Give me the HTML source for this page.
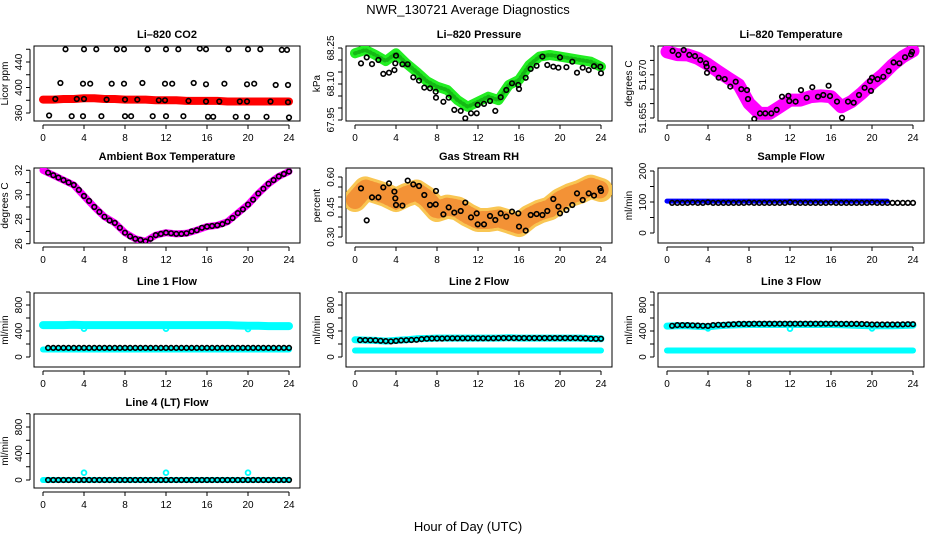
<!DOCTYPE html>
<html><head><meta charset="utf-8"><style>
html,body{margin:0;padding:0;background:#fff;}
svg{display:block;font-family:"Liberation Sans",Arial,sans-serif;}
</style></head><body>
<svg id="chart" width="936" height="540" viewBox="0 0 936 540" xmlns="http://www.w3.org/2000/svg">
<rect width="936" height="540" fill="#fff"/>
<text x="468" y="14" text-anchor="middle" font-size="13">NWR_130721  Average Diagnostics</text>
<text x="468" y="531" text-anchor="middle" font-size="13">Hour of Day (UTC)</text>
</svg>
<script>
// ---------- data ----------
const HOURS = [0,1,2,3,4,5,6,7,8,9,10,11,12,13,14,15,16,17,18,19,20,21,22,23,24];
const HALF = [0.5,1,1.5,2,2.5,3,3.5,4,4.5,5,5.5,6,6.5,7,7.5,8,8.5,9,9.5,10,10.5,11,11.5,12,12.5,13,13.5,14,14.5,15,15.5,16,16.5,17,17.5,18,18.5,19,19.5,20,20.5,21,21.5,22,22.5,23,23.5,24];
const X_TICKS = [0,4,8,12,16,20,24];

// CO2
const co2Band = [381,381,382,382,383,383,382,382,381,381,381,380,380,380,379,379,379,379,378,378,378,378,378,378,378];
const co2TopH = [2.2,4.0,5.2,7.2,7.9,10.2,12.0,13.2,15.3,15.9,18.1,20.0,21.2,23.3,23.8];
const co2TopV = [460,460,460,460,460,460,460,460,461,460,460,460,460,459,459];
const co2MidH = [1.7,3.9,4.6,6.7,7.9,9.7,11.9,12.6,14.7,15.9,17.7,19.9,20.6,22.7,23.9];
const co2MidV = [407,406,406,406,406,407,406,406,407,405,406,405,406,404,404];
const co2LowH = [1.2,3.3,4.0,6.2,8.0,9.2,11.3,11.9,14.2,15.9,17.2,19.2,19.9,22.2,23.9];
const co2LowV = [382,382,382,381,381,381,380,380,379,378,378,378,378,378,377];
const co2BotH = [0.6,2.8,3.9,5.7,8.0,8.6,10.7,12.0,13.7,16.1,16.6,18.8,19.9,21.8,24.0];
const co2BotV = [356,355,355,355,355,355,355,355,355,354,354,354,354,354,353];

// Pressure
const presBand = [68.228,68.242,68.221,68.196,68.228,68.186,68.151,68.112,68.089,68.075,68.033,68.005,68.026,68.047,68.033,68.096,68.117,68.179,68.214,68.221,68.214,68.207,68.200,68.193,68.172];
const presPtH = [0.59,1.14,1.66,2.28,2.76,3.32,3.84,3.93,4.0,4.62,5.14,5.69,6.24,6.76,7.32,7.87,7.9,8.62,9.14,9.69,10.31,10.76,11.32,11.87,11.97,12.59,13.17,13.69,14.21,14.76,15.32,15.93,16.0,16.65,17.14,17.72,18.28,18.76,19.35,19.84,20.0,20.62,21.2,21.66,22.21,22.8,23.32,23.93,24.0];
const presPtV = [68.186,68.211,68.183,68.200,68.142,68.147,68.158,68.186,68.218,68.182,68.182,68.128,68.114,68.085,68.082,68.068,68.043,68.026,68.043,67.992,67.988,67.957,67.978,67.978,68.013,68.017,68.029,67.988,68.045,68.075,68.103,68.096,68.079,68.126,68.163,68.176,68.214,68.179,68.172,68.168,68.211,68.170,68.193,68.147,68.168,68.158,68.174,68.172,68.145];

// Li-820 temperature
const tempBand = [51.6780,51.6770,51.6769,51.6757,51.6736,51.6711,51.6688,51.6665,51.6601,51.6566,51.6566,51.6589,51.6612,51.6612,51.6624,51.6627,51.6624,51.6589,51.6607,51.6636,51.6670,51.6699,51.6734,51.6763,51.6783];
const tempPtH = [0.55,1.11,1.63,2.18,2.73,3.25,3.80,3.87,3.90,4.55,5.04,5.63,6.18,6.70,7.25,7.80,7.90,8.52,9.07,9.59,10.18,10.70,11.22,11.84,11.93,12.55,13.07,13.63,14.18,14.73,15.25,15.77,15.90,16.59,17.07,17.66,18.21,18.73,19.28,19.80,19.90,20.0,20.55,21.1,21.63,22.11,22.67,23.22,23.80,23.90];
const tempPtV = [51.6783,51.6769,51.6786,51.6769,51.6765,51.6751,51.6740,51.6728,51.6707,51.6720,51.6690,51.6685,51.6659,51.6676,51.6650,51.6647,51.6616,51.6547,51.6566,51.6566,51.6566,51.6578,51.6624,51.6627,51.6609,51.6607,51.6647,51.6620,51.6657,51.6624,51.6630,51.6662,51.6626,51.6607,51.6551,51.6607,51.6603,51.6630,51.6655,51.6678,51.6644,51.6690,51.6685,51.6693,51.6713,51.6743,51.6740,51.6761,51.6771,51.6780];

// Ambient box temperature
const ambBand = [32.0,31.6,31.2,30.8,29.9,29.0,28.2,27.7,26.9,26.4,26.2,26.7,26.9,26.8,26.85,27.1,27.4,27.5,27.8,28.5,29.2,30.1,30.9,31.5,31.9];
const ambPts = [31.8,31.6,31.4,31.2,31.0,30.8,30.4,29.9,29.5,29.0,28.6,28.2,27.9,27.7,27.3,26.9,26.6,26.4,26.3,26.2,26.4,26.7,26.8,26.9,26.85,26.8,26.8,26.85,27.0,27.1,27.3,27.4,27.45,27.5,27.6,27.8,28.1,28.5,28.8,29.2,29.6,30.1,30.5,30.9,31.2,31.5,31.7,31.9];

// Gas stream RH
const rhBand = [0.485,0.543,0.527,0.510,0.485,0.510,0.527,0.493,0.435,0.452,0.443,0.410,0.385,0.385,0.393,0.377,0.360,0.402,0.427,0.443,0.485,0.510,0.527,0.552,0.535];
const rhPtH = [0.59,1.14,1.66,2.28,2.76,3.32,3.84,3.93,4.0,4.62,5.14,5.69,6.24,6.76,7.32,7.87,7.9,8.62,9.14,9.69,10.31,10.76,11.32,11.87,11.97,12.59,13.17,13.69,14.21,14.76,15.32,15.93,16.0,16.65,17.14,17.72,18.28,18.76,19.35,19.84,20.0,20.62,21.2,21.66,22.21,22.8,23.32,23.93,24.0];
const rhPtV = [0.543,0.383,0.498,0.498,0.548,0.568,0.527,0.493,0.460,0.457,0.582,0.563,0.555,0.510,0.460,0.463,0.530,0.413,0.448,0.422,0.430,0.472,0.398,0.418,0.363,0.363,0.405,0.385,0.418,0.402,0.427,0.418,0.352,0.332,0.410,0.415,0.410,0.430,0.490,0.452,0.418,0.435,0.460,0.518,0.485,0.518,0.507,0.543,0.530];

// Sample flow
const sfBandH = [0,2,4,6,8,10,12,14,16,18,20,21.5];
const sfBandV = [103,103,103,103,103,103,103,103,103,103,103,103];
const sfPts = [97,97,97,97,98,97,97,99,97,97,97,97,97,97,97,98,97,97,97,97,97,97,97,99,97,97,97,97,97,97,97,98,97,97,97,97,97,97,97,98,97,97,97,97,97,97,97,97];

// Line 1
const l1Top = [490,490,490,495,490,490,490,490,490,490,490,490,490,490,490,490,490,490,490,485,480,480,475,475,475];
const l1Bot = [115,115,115,115,115,115,115,115,115,115,115,115,115,115,115,115,115,115,115,115,115,115,115,115,115];
const l1Blk = [140,140,140,140,140,140,140,140,140,140,140,140,140,140,140,140,140,140,140,140,140,140,140,140,140,140,140,140,140,140,140,140,140,140,140,140,140,140,140,140,140,140,140,140,140,140,140,140];
const dipH = [4,12,20];
const l1Dip = [435,435,430];
// Line 2
const l2Bot = [100,100,100,100,100,100,100,100,100,100,100,100,100,100,100,100,100,100,100,100,100,100,100,100,100];
const l2Cy = [265,260,255,245,255,265,280,285,290,290,290,290,290,290,290,295,290,290,290,290,290,290,290,285,280];
const l2Blk = [260,260,258,255,250,245,240,248,255,258,262,265,275,282,285,285,285,288,288,288,288,288,288,288,288,288,288,290,290,290,290,290,290,290,290,290,290,290,290,290,290,290,290,288,286,282,280,280];
// Line 3
const l3Bot = [100,100,100,100,100,100,100,100,100,100,100,100,100,100,100,100,100,100,100,100,100,100,100,100,100];
const l3Cy = [475,480,480,470,465,480,490,495,500,500,500,500,500,500,500,500,500,495,490,485,480,480,480,485,490];
const l3Blk = [480,490,490,490,488,485,480,478,490,495,495,500,505,510,510,510,512,512,512,512,512,512,512,512,512,512,512,512,512,512,512,512,512,510,510,510,510,508,505,500,500,500,500,500,500,502,505,505];
const l3Dip = [440,435,440];
// Line 4
const l4Cy = [0,0,0,0,0,0,0,0,0,0,0,0,0,0,0,0,0,0,0,0,0,0,0,0,0];
const l4Blk = [0,0,0,0,0,0,0,0,0,0,0,0,0,0,0,0,0,0,0,0,0,0,0,0,0,0,0,0,0,0,0,0,0,0,0,0,0,0,0,0,0,0,0,0,0,0,0,0];
const l4Spk = [110,110,110];

// ---------- drawing ----------
const svg = document.getElementById('chart');
const NS = 'http://www.w3.org/2000/svg';
function mk(tag, attrs, parent){
  const e = document.createElementNS(NS, tag);
  for (const k in attrs) e.setAttribute(k, attrs[k]);
  (parent||svg).appendChild(e);
  return e;
}
function panel(cfg){
  const c = cfg.col, r = cfg.row;
  const rowsY = [[46,121],[168,243],[293,367],[414,488]];
  const x0 = 34 + 312*c, x1 = 300 + 312*c, t0 = 43 + 312*c, t1 = 289 + 312*c;
  const y0 = rowsY[r][0], y1 = rowsY[r][1];
  const g = mk('g', {});
  
  
  const xs = h => t0 + (t1 - t0) * h / 24;
  const ys = v => cfg.ya[1] + (cfg.yb[1] - cfg.ya[1]) * (v - cfg.ya[0]) / (cfg.yb[0] - cfg.ya[0]);
  const box = mk('rect', {x:x0, y:y0, width:x1-x0, height:y1-y0, fill:'none', stroke:'#000', 'stroke-width':1}, g);
  
  
  const title = mk('text', {x:(x0+x1)/2, y:y0-8, 'text-anchor':'middle', 'font-size':11, 'font-weight':'bold'}, g);
  title.textContent = cfg.title;
  
  
  const xa = mk('g', {}, g);
  
  
  mk('line', {x1:xs(0), x2:xs(24), y1:y1+4, y2:y1+4, stroke:'#000'}, xa);
  X_TICKS.forEach(t => {
    mk('line', {x1:xs(t), x2:xs(t), y1:y1+4, y2:y1+8, stroke:'#000'}, xa);
    const tl = mk('text', {x:xs(t), y:y1+20, 'text-anchor':'middle', 'font-size':10}, xa);
    tl.textContent = t;
    
    
  });
  const ya = mk('g', {}, g);
  
  
  const tk = cfg.ticks;
  mk('line', {x1:x0-4, x2:x0-4, y1:ys(tk[0]), y2:ys(tk[tk.length-1]), stroke:'#000'}, ya);
  tk.forEach(t => mk('line', {x1:x0-8, x2:x0-4, y1:ys(t), y2:ys(t), stroke:'#000'}, ya));
  cfg.labels.forEach(t => {
    const lx = x0 - 12, ly = ys(t);
    const tl = mk('text', {x:lx, y:ly, 'text-anchor':'middle', 'font-size':10, transform:`rotate(-90 ${lx} ${ly})`}, ya);
    tl.textContent = cfg.fmt ? cfg.fmt(t) : t;
    
    
  });
  const ylx = x0 - 26, yly = (y0+y1)/2;
  const yt = mk('text', {x:ylx, y:yly, 'text-anchor':'middle', 'font-size':10, transform:`rotate(-90 ${ylx} ${yly})`}, g);
  yt.textContent = cfg.ylab;
  
  
  const clip = 'clip' + c + r;
  const cp = mk('clipPath', {id:clip}, g);
  mk('rect', {x:x0, y:y0, width:x1-x0, height:y1-y0}, cp);
  const plot = mk('g', {'clip-path':`url(#${clip})`}, g);
  cfg.series.forEach(s => {
    const sg = mk('g', {}, plot);
    
    
    if (s.band) {
      const pts = s.h.map((h,i) => xs(h).toFixed(1) + ',' + ys(s.v[i]).toFixed(1)).join(' ');
      mk('polyline', {points:pts, fill:'none', stroke:s.color, 'stroke-width':s.band, 'stroke-linecap':'round', 'stroke-linejoin':'round', opacity:s.op||1}, sg);
      if (s.tex) mk('polyline', {points:pts, fill:'none', stroke:s.tex, 'stroke-width':Math.max(1, s.band-6), 'stroke-dasharray':'1 3', 'stroke-linecap':'round', opacity:s.texOp||0.6}, sg);
    }
    if (s.r) {
      s.h.forEach((h,i) => {
        const ci = mk('circle', {cx:xs(h).toFixed(1), cy:ys(s.v[i]).toFixed(1), r:s.r, fill:s.fill||'none', stroke:s.stroke||s.color, 'stroke-width':s.sw||1.5}, sg);
        
        
      });
    }
  });
}
const range = (a,b,s) => { const o=[]; for (let v=a; v<=b+1e-9; v+=s) o.push(+v.toFixed(4)); return o; };
const blk = (name,h,v) => ({name, h, v, r:2.3, color:'#000', sw:1.6});

panel({name:'co2-panel', col:0, row:0, title:'Li\u2013820 CO2', ylab:'Licor ppm', ya:[360,113], yb:[440,62],
  ticks:range(360,460,20), labels:[360,400,440],
  series:[{name:'co2-band', h:HOURS, v:co2Band, band:8, color:'#ff0000'},
    blk('co2-top-points',co2TopH,co2TopV), blk('co2-mid-points',co2MidH,co2MidV),
    blk('co2-low-points',co2LowH,co2LowV), blk('co2-bottom-points',co2BotH,co2BotV)]});
panel({name:'pressure-panel', col:1, row:0, title:'Li\u2013820 Pressure', ylab:'kPa', ya:[67.95,120], yb:[68.25,48],
  ticks:range(67.95,68.25,0.05), labels:[67.95,68.10,68.25], fmt:v=>v.toFixed(2),
  series:[{name:'pressure-band', h:HOURS, v:presBand, band:10, color:'#22ee22', tex:'#006600', texOp:0.4},
    blk('pressure-points',presPtH,presPtV)]});
panel({name:'temperature-panel', col:2, row:0, title:'Li\u2013820 Temperature', ylab:'degrees C', ya:[51.655,118], yb:[51.680,46],
  ticks:range(51.655,51.680,0.005), labels:[51.655,51.670], fmt:v=>v.toFixed(3),
  series:[{name:'temperature-band', h:HOURS, v:tempBand, band:13, color:'#ff00ff'},
    blk('temperature-points',tempPtH,tempPtV)]});
panel({name:'ambient-panel', col:0, row:1, title:'Ambient Box Temperature', ylab:'degrees C', ya:[26,243.7], yb:[32,170.3],
  ticks:range(26,32,1), labels:[26,28,30,32],
  series:[{name:'ambient-band', h:HOURS, v:ambBand, band:7, color:'#ff00ff'},
    blk('ambient-points',HALF,ambPts)]});
panel({name:'rh-panel', col:1, row:1, title:'Gas Stream RH', ylab:'percent', ya:[0.30,237], yb:[0.60,177],
  ticks:range(0.30,0.60,0.05), labels:[0.30,0.45,0.60], fmt:v=>v.toFixed(2),
  series:[{name:'rh-band', h:HOURS, v:rhBand, band:24, color:'#f8c040', tex:'#e83000', texOp:0.35, op:0.9},
    blk('rh-points',rhPtH,rhPtV)]});
panel({name:'sample-flow-panel', col:2, row:1, title:'Sample Flow', ylab:'ml/min', ya:[0,233], yb:[200,171],
  ticks:range(0,200,50), labels:[0,100,200],
  series:[{name:'sample-flow-band', h:sfBandH, v:sfBandV, band:5, color:'#0000ff'},
    blk('sample-flow-points',HALF,sfPts)]});
const flowTicks = range(0,1000,200);
panel({name:'line1-panel', col:0, row:2, title:'Line 1 Flow', ylab:'ml/min', ya:[0,357], yb:[800,305],
  ticks:flowTicks, labels:[0,400,800],
  series:[{name:'line1-cyan-top', h:HOURS, v:l1Top, band:8, color:'#00ffff'},
    {name:'line1-cyan-bottom', h:HOURS, v:l1Bot, band:6, color:'#00ffff'},
    {name:'line1-cyan-dips', h:dipH, v:l1Dip, r:2.4, color:'#00ffff', sw:1.8},
    blk('line1-points',HALF,l1Blk)]});
panel({name:'line2-panel', col:1, row:2, title:'Line 2 Flow', ylab:'ml/min', ya:[0,357], yb:[800,305],
  ticks:flowTicks, labels:[0,400,800],
  series:[{name:'line2-cyan-bottom', h:HOURS, v:l2Bot, band:6, color:'#00ffff'},
    {name:'line2-cyan-upper', h:HOURS, v:l2Cy, band:7, color:'#00ffff'},
    blk('line2-points',HALF,l2Blk)]});
panel({name:'line3-panel', col:2, row:2, title:'Line 3 Flow', ylab:'ml/min', ya:[0,357], yb:[800,305],
  ticks:flowTicks, labels:[0,400,800],
  series:[{name:'line3-cyan-bottom', h:HOURS, v:l3Bot, band:6, color:'#00ffff'},
    {name:'line3-cyan-upper', h:HOURS, v:l3Cy, band:7, color:'#00ffff'},
    {name:'line3-cyan-dips', h:dipH, v:l3Dip, r:2.4, color:'#00ffff', sw:1.8},
    blk('line3-points',HALF,l3Blk)]});
panel({name:'line4-panel', col:0, row:3, title:'Line 4 (LT) Flow', ylab:'ml/min', ya:[0,480], yb:[800,427],
  ticks:flowTicks, labels:[0,400,800],
  series:[{name:'line4-cyan', h:HOURS, v:l4Cy, band:6, color:'#00ffff'},
    {name:'line4-cyan-spikes', h:dipH, v:l4Spk, r:2.4, color:'#00ffff', sw:1.8},
    blk('line4-points',HALF,l4Blk)]});
</script>
</body></html>
